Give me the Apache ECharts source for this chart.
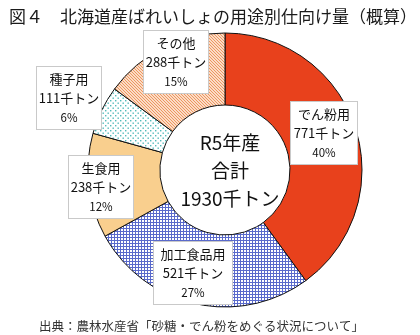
<!DOCTYPE html>
<html>
<head>
<meta charset="utf-8">
<script src="https://cdn.jsdelivr.net/npm/echarts@6/dist/echarts.min.js"></script>
<style>
  html, body { margin: 0; padding: 0; background: #fff; }
  #chart { width: 420px; height: 335px; }
</style>
</head>
<body>
<div id="chart"></div>
<script>
// 用途別の区分と仕向け量（千トン）
const categories = ['でん粉用', '加工食品用', '生食用', '種子用', 'その他'];
const volumes = [771, 521, 238, 111, 288];
const totalVolume = 1930;
const unit = '千トン';

const FONT = '"Noto Sans CJK JP", "Noto Sans", sans-serif';

// 塗りつぶし用の模様タイル
function makeTile(size, draw) {
  const c = document.createElement('canvas');
  c.width = size; c.height = size;
  const g = c.getContext('2d');
  draw(g, size);
  return { image: c, repeat: 'repeat' };
}

const gridPattern = makeTile(3, (g, s) => {
  g.fillStyle = '#ffffff'; g.fillRect(0, 0, s, s);
  g.fillStyle = '#5a6acb';
  g.fillRect(0, 0, s, 1);
  g.fillRect(0, 0, 1, s);
});

const hatchPattern = makeTile(3, (g, s) => {
  g.fillStyle = '#fbdcc6'; g.fillRect(0, 0, s, s);
  g.fillStyle = '#ec9660';
  for (let i = 0; i < s; i++) g.fillRect(i, i, 1, 1);
});

const dotPattern = makeTile(5, (g, s) => {
  g.fillStyle = '#ffffff'; g.fillRect(0, 0, s, s);
  g.fillStyle = '#52baba';
  g.fillRect(0, 0, 1.4, 1.4);
  g.fillRect(2.5, 2.5, 1.4, 1.4);
});

const fills = ['#e8411c', gridPattern, '#f9cf8e', dotPattern, hatchPattern];

// ラベル枠の中心位置と幅
const labelSpots = {
  'でん粉用': { at: [324, 133], w: 60 },
  '加工食品用': { at: [193, 273], w: 72 },
  '生食用': { at: [101, 187], w: 58 },
  '種子用': { at: [69, 98], w: 58 },
  'その他': { at: [176, 62], w: 58 }
};

const chart = echarts.init(document.getElementById('chart'), null, { renderer: 'canvas' });

chart.setOption({
  animation: false,
  backgroundColor: '#ffffff',
  title: [
    {
      text: '図４　北海道産ばれいしょの用途別仕向け量（概算）',
      left: 4, top: 3,
      textStyle: { fontFamily: FONT, fontSize: 17, fontWeight: 'normal', color: '#1a1a1a' }
    },
    {
      text: 'R5年産\n合計\n' + totalVolume + unit,
      left: 225, top: 124, textAlign: 'center',
      textStyle: { fontFamily: FONT, fontSize: 19, fontWeight: 'normal', color: '#111', lineHeight: 28 }
    },
    {
      text: '出典：農林水産省「砂糖・でん粉をめぐる状況について」',
      left: 34, top: 315,
      textStyle: { fontFamily: FONT, fontSize: 12.5, fontWeight: 'normal', color: '#333' }
    }
  ],
  series: [{
    type: 'pie',
    center: [225, 170],
    radius: [65, 137],
    startAngle: 90,
    clockwise: true,
    percentPrecision: 0,
    silent: true,
    itemStyle: { borderColor: '#111', borderWidth: 1 },
    labelLine: { show: false },
    label: {
      show: true,
      position: 'outside',
      formatter: '{n|{b}}\n{v|{c}' + unit + '}\n{p|{d}%}',
      backgroundColor: '#ffffff',
      borderColor: '#c9c9c9',
      borderWidth: 1,
      overflow: 'none',
      padding: [3, 3, 2, 3],
      align: 'center',
      rich: {
        n: { fontFamily: FONT, fontSize: 13, color: '#111', lineHeight: 19, align: 'center' },
        v: { fontFamily: FONT, fontSize: 13, color: '#111', lineHeight: 19, align: 'center' },
        p: { fontFamily: FONT, fontSize: 11.5, color: '#111', lineHeight: 19, align: 'center' }
      }
    },
    labelLayout: function (params) {
      const spot = labelSpots[categories[params.dataIndex]];
      return { x: spot.at[0], y: spot.at[1], align: 'center', verticalAlign: 'middle' };
    },
    data: categories.map((name, i) => ({
      name: name,
      value: volumes[i],
      itemStyle: { color: fills[i] },
      label: { width: labelSpots[name].w }
    }))
  }]
});
</script>
</body>
</html>
